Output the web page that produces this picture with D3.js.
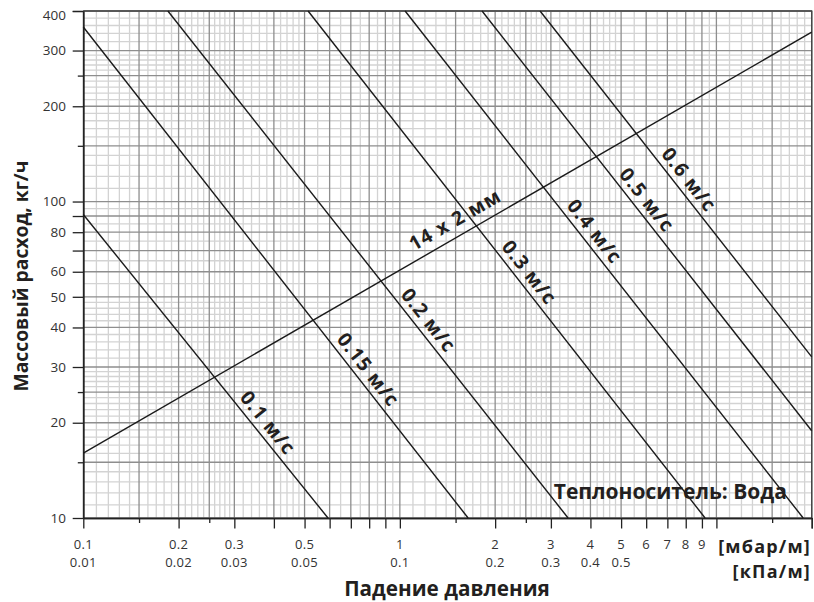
<!DOCTYPE html>
<html>
<head>
<meta charset="utf-8">
<script src="https://cdn.jsdelivr.net/npm/d3@7"></script>
<style>
    body { margin: 0; background: #fff; }
    svg { display: block; font-family: "Open Sans", sans-serif; }
</style>
</head>
<body>
<svg id="chart" width="814" height="602"></svg>
<script>
// Velocity lines (m/s): two end points [pressure drop mbar/m, mass flow kg/h]
const velocityNames = ["0.1 м/с", "0.15 м/с", "0.2 м/с", "0.3 м/с", "0.4 м/с", "0.5 м/с", "0.6 м/с"];
const velocityStart = [[0.1, 91], [0.1, 356], [0.185, 400], [0.513, 400], [1.039, 400], [1.818, 400], [2.773, 400]];
const velocityEnd   = [[0.593, 10], [1.643, 10], [3.40, 10], [9.21, 10], [18.8, 10], [20, 18.87], [20, 32.3]];
// where along each line its label sits (pressure drop)
const velocityLabelAt = [0.356, 0.738, 1.144, 2.381, 3.83, 5.6, 7.61];

// Pipe line
const pipeName = "14 x 2 мм";
const pipeStart = [0.1, 16.04];
const pipeEnd = [20, 343];
const pipeLabelAt = 1.584;

// Axis ticks
const xLabelTicks = [0.1, 0.2, 0.3, 0.5, 1, 2, 3, 4, 5, 6, 7, 8, 9];
const xLabelsMbar = ["0.1", "0.2", "0.3", "0.5", "1", "2", "3", "4", "5", "6", "7", "8", "9"];
const xKpaTicks = [0.1, 0.2, 0.3, 0.5, 1, 2, 3, 4, 5];
const xLabelsKpa = ["0.01", "0.02", "0.03", "0.05", "0.1", "0.2", "0.3", "0.4", "0.5"];
const yLabelTicks = [10, 20, 30, 40, 50, 60, 80, 100, 200, 300, 400];

// Grid pattern inside each decade
const majorMult = [1, 1.5, 2, 2.5, 3, 4, 5, 6, 7, 8, 9];
const minorMult = [1.1, 1.2, 1.3, 1.4, 1.6, 1.7, 1.8, 1.9, 2.1, 2.2, 2.3, 2.4, 2.6, 2.7, 2.8, 2.9,
                   3.2, 3.4, 3.6, 3.8, 4.2, 4.4, 4.6, 4.8, 5.5, 6.5, 7.5, 8.5, 9.5];
const shortMult = [1.5, 2.5];

const W = 814, H = 602;
const margin = {top: 11, right: 2.3, bottom: 84, left: 83.3};

const svg = d3.select("#chart");

const x = d3.scaleLog().domain([0.1, 20]).range([margin.left, W - margin.right]);
const y = d3.scaleLog().domain([10, 400]).range([H - margin.bottom, margin.top]);

const x0 = x.range()[0], x1 = x.range()[1];
const y0 = y.range()[0], y1 = y.range()[1];

function gridValues(decades, mults, lo, hi) {
    return decades.flatMap(d => mults.map(m => +(d * m).toPrecision(6)))
        .filter(v => v >= lo - 1e-9 && v <= hi + 1e-9);
}

const xDecades = [0.1, 1, 10];
const yDecades = [10, 100];

const xMinor = gridValues(xDecades, minorMult, 0.1, 20);
const yMinor = gridValues(yDecades, minorMult, 10, 400);
const xMajor = gridValues(xDecades, majorMult, 0.1, 20).concat([20]);
const yMajor = gridValues(yDecades, majorMult, 10, 400).concat([400]);

const isShort = v => shortMult.some(m => xDecades.concat(yDecades).some(d => Math.abs(v - d * m) < 1e-9));

// Minor grid
const grid = svg.append("g");
grid.selectAll(".vminor").data(xMinor).join("line")
    .attr("x1", d => x(d)).attr("x2", d => x(d))
    .attr("y1", y1).attr("y2", y0)
    .attr("stroke", "#d3d3d3").attr("stroke-width", 1.3);
grid.selectAll(".hminor").data(yMinor).join("line")
    .attr("x1", x0).attr("x2", x1)
    .attr("y1", d => y(d)).attr("y2", d => y(d))
    .attr("stroke", "#d3d3d3").attr("stroke-width", 1.3);

// Major grid
grid.selectAll(".vmajor").data(xMajor).join("line")
    .attr("x1", d => x(d)).attr("x2", d => x(d))
    .attr("y1", y1).attr("y2", y0)
    .attr("stroke", "#8e8e8e").attr("stroke-width", 1.3);
grid.selectAll(".hmajor").data(yMajor).join("line")
    .attr("x1", x0).attr("x2", x1)
    .attr("y1", d => y(d)).attr("y2", d => y(d))
    .attr("stroke", "#8e8e8e").attr("stroke-width", 1.3);

// Frame (top, right)
svg.append("path")
    .attr("d", `M${x0},${y1}H${x1}V${y0}`)
    .attr("fill", "none").attr("stroke", "#444").attr("stroke-width", 1.3);

// Axes with ticks (labels drawn separately)
const xLong = xMajor.filter(v => !isShort(v) || v === 20);
const xShort = xMajor.filter(v => isShort(v) && v !== 20);
const yLong = yMajor.filter(v => !isShort(v));
const yShort = yMajor.filter(v => isShort(v));

function styleAxis(g) {
    g.selectAll("path, line").attr("stroke", "#222").attr("stroke-width", 1.3);
}

svg.append("g").attr("transform", `translate(0,${y0})`)
    .call(d3.axisBottom(x).tickValues(xLong).tickSize(10.5).tickSizeOuter(0).tickFormat(""))
    .call(styleAxis);
svg.append("g").attr("transform", `translate(0,${y0})`)
    .call(d3.axisBottom(x).tickValues(xShort).tickSize(5).tickSizeOuter(0).tickFormat(""))
    .call(styleAxis);
svg.append("g").attr("transform", `translate(${x0},0)`)
    .call(d3.axisLeft(y).tickValues(yLong).tickSize(10.6).tickSizeOuter(0).tickFormat(""))
    .call(styleAxis);
svg.append("g").attr("transform", `translate(${x0},0)`)
    .call(d3.axisLeft(y).tickValues(yShort).tickSize(5.5).tickSizeOuter(0).tickFormat(""))
    .call(styleAxis);

// Tick labels
const tickFont = "13px";
svg.append("g").selectAll("text").data(xLabelTicks).join("text")
    .attr("x", d => x(d)).attr("y", 548.5)
    .attr("text-anchor", "middle")
    .attr("font-size", tickFont).attr("fill", "#333")
    .attr("letter-spacing", "0.3px")
    .text((d, i) => xLabelsMbar[i]);
svg.append("g").selectAll("text").data(xKpaTicks).join("text")
    .attr("x", d => x(d)).attr("y", 566.5)
    .attr("text-anchor", "middle")
    .attr("font-size", tickFont).attr("fill", "#333")
    .attr("letter-spacing", "0.3px")
    .text((d, i) => xLabelsKpa[i]);
svg.append("g").selectAll("text").data(yLabelTicks).join("text")
    .attr("x", 66).attr("y", d => y(d))
    .attr("dy", d => d === 400 ? "0.7em" : "0.35em")
    .attr("text-anchor", "end")
    .attr("font-size", "13.5px").attr("fill", "#333")
    .text(d => d);

// Units and titles
const boldText = (t, size) => t.attr("font-size", size).attr("font-weight", "bold").attr("fill", "#231f20");

svg.append("text").attr("x", 811).attr("y", 553)
    .attr("text-anchor", "end").call(boldText, "18px")
    .attr("letter-spacing", "1.2px")
    .text("[мбар/м]");
svg.append("text").attr("x", 811).attr("y", 578)
    .attr("text-anchor", "end").call(boldText, "18px")
    .attr("letter-spacing", "1.2px")
    .text("[кПа/м]");
svg.append("text").attr("x", 447).attr("y", 596)
    .attr("text-anchor", "middle").call(boldText, "20.7px")
    .text("Падение давления");
svg.append("text")
    .attr("transform", "translate(28,276) rotate(-90)")
    .attr("text-anchor", "middle").call(boldText, "19.3px")
    .text("Массовый расход, кг/ч");

// Lines
const lines = velocityNames.map((name, i) => ({
    name, start: velocityStart[i], end: velocityEnd[i], labelAt: velocityLabelAt[i], offset: 13
}));
lines.push({name: pipeName, start: pipeStart, end: pipeEnd, labelAt: pipeLabelAt, offset: 16});

svg.append("g").selectAll("line").data(lines).join("line")
    .attr("x1", d => x(d.start[0])).attr("y1", d => y(d.start[1]))
    .attr("x2", d => x(d.end[0])).attr("y2", d => y(d.end[1]))
    .attr("stroke", "#1a1a1a").attr("stroke-width", 1.4);

// Line labels, rotated along their line
svg.append("g").selectAll("text").data(lines).join("text")
    .attr("transform", d => {
        const ax = x(d.start[0]), ay = y(d.start[1]);
        const bx = x(d.end[0]), by = y(d.end[1]);
        const len = Math.hypot(bx - ax, by - ay);
        const ux = (bx - ax) / len, uy = (by - ay) / len;
        const px = x(d.labelAt);
        const py = ay + (px - ax) * (by - ay) / (bx - ax);
        const angle = Math.atan2(by - ay, bx - ax) * 180 / Math.PI;
        return `translate(${px + uy * d.offset},${py - ux * d.offset}) rotate(${angle})`;
    })
    .attr("dy", "0.35em")
    .attr("text-anchor", "middle")
    .call(boldText, "19.5px")
    .attr("letter-spacing", "1.1px")
    .text(d => d.name);

// Medium note
svg.append("text").attr("x", 787).attr("y", 499)
    .attr("text-anchor", "end").call(boldText, "21px")
    .text("Теплоноситель: Вода");
</script>
</body>
</html>
